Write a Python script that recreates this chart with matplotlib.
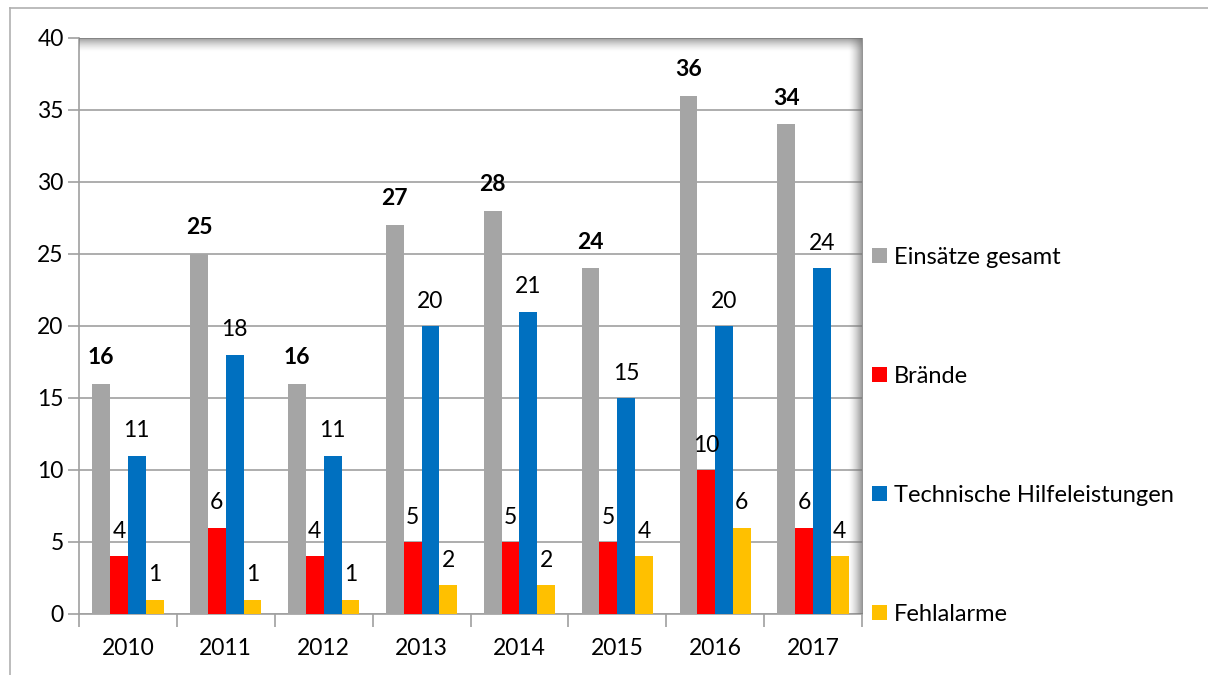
import numpy as np
import matplotlib.pyplot as plt
from matplotlib.lines import Line2D
from matplotlib.patches import Patch

years = ["2010", "2011", "2012", "2013", "2014", "2015", "2016", "2017"]
einsaetze = [16, 25, 16, 27, 28, 24, 36, 34]
braende = [4, 6, 4, 5, 5, 5, 10, 6]
technische = [11, 18, 11, 20, 21, 15, 20, 24]
fehlalarme = [1, 1, 1, 2, 2, 4, 6, 4]

series = [
    ("Einsätze gesamt", einsaetze, "#A5A5A5", "bold"),
    ("Brände", braende, "#FF0000", "normal"),
    ("Technische Hilfeleistungen", technische, "#0070C0", "normal"),
    ("Fehlalarme", fehlalarme, "#FFC000", "normal"),
]

plt.rcParams['font.family'] = ['Lato', 'DejaVu Sans']
FS = 16.5

W, H = 1208, 675
fig = plt.figure(figsize=(W / 100, H / 100), dpi=100)
ax = fig.add_axes([79 / W, 1 - 614 / H, (862 - 79) / W, (614 - 38) / H])

x = np.arange(len(years))
bw = 0.182
offsets = (np.arange(4) - 1.5) * bw
for (name, vals, col, weight), off in zip(series, offsets):
    ax.bar(x + off, vals, width=bw, color=col, zorder=3, label=name)
    for xi, v in zip(x, vals):
        ax.annotate(str(v), (xi + off, v), xytext=(0, 19 if weight == "bold" else 18),
                    textcoords="offset points", ha="center", va="center",
                    fontsize=FS, fontweight=weight, zorder=5)

ax.set_xlim(-0.5, len(years) - 0.5)
ax.set_ylim(0, 40)
ax.set_yticks(range(0, 41, 5))
ax.yaxis.grid(True, color="#A0A0A0", linewidth=1.2, zorder=0)
ax.set_axisbelow(True)

ax.set_xticks(x)
ax.set_xticklabels(years, fontsize=FS)
ax.set_xticks(np.arange(-0.5, len(years), 1), minor=True)
ax.tick_params(axis="x", which="major", length=0, pad=17)
ax.tick_params(axis="x", which="minor", length=9, color="#A0A0A0", width=1.2)
ax.tick_params(axis="y", length=8, color="#A0A0A0", width=1.2, labelsize=FS, pad=3)

for s in ["top", "right"]:
    ax.spines[s].set_visible(False)
for s in ["left", "bottom"]:
    ax.spines[s].set_color("#A0A0A0")
    ax.spines[s].set_linewidth(1.2)

# inner shadow along top and right edge of plot area
n = 64
top = np.zeros((n, 2, 4))
top[..., :3] = 0.45
top[..., 3] = np.linspace(0.85, 0.0, n)[:, None] ** 1.5
ax.imshow(top, extent=[0, 1, 1 - 0.025, 1], transform=ax.transAxes,
          aspect="auto", zorder=4, interpolation="bilinear")
right = np.zeros((2, n, 4))
right[..., :3] = 0.45
right[..., 3] = np.linspace(0.0, 0.85, n)[None, :] ** 1.5
ax.imshow(right, extent=[1 - 0.018, 1, 0, 1], transform=ax.transAxes,
          aspect="auto", zorder=4, interpolation="bilinear")
ax.set_xlim(-0.5, len(years) - 0.5)
ax.set_ylim(0, 40)

handles = [Patch(facecolor=c, edgecolor="none") for _, _, c, _ in series]
labels = [s[0] for s in series]
fig.legend(handles, labels, loc="upper left", bbox_to_anchor=(872 / W, 1 - 247 / H),
           frameon=False, fontsize=17, handlelength=0.63, handleheight=0.63,
           handletextpad=0.3, labelspacing=4.15, borderaxespad=0, borderpad=0)

# outer frame
fig.add_artist(Line2D([10 / W, 10 / W], [0, 1 - 8 / H], color="#B0B0B0", lw=1.2))
fig.add_artist(Line2D([10 / W, 1], [1 - 8 / H, 1 - 8 / H], color="#B0B0B0", lw=1.2))

fig.savefig("out.png", dpi=100)
